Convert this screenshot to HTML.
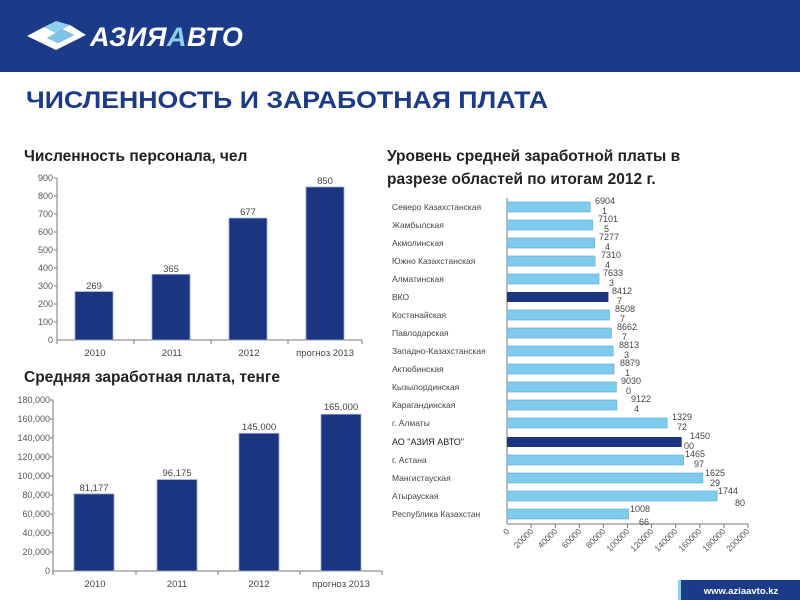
<!DOCTYPE html>
<html><head><meta charset="utf-8"><style>
html,body{margin:0;padding:0;background:#fff;}
svg{display:block;font-family:"Liberation Sans",sans-serif;}
</style></head><body>
<svg width="800" height="600" viewBox="0 0 800 600" xmlns="http://www.w3.org/2000/svg">
<rect x="0" y="0" width="800" height="72" fill="#1b3a87"/>
<!-- logo -->
<polygon points="27,36 44,27 56,33 47,38 58,43 74,35 62,29 70,25 86,35 56,50" fill="#fff"/>
<polygon points="44,27 56,21 70,25 62,29 56,33" fill="#8fd0ef"/>
<polygon points="62,29 74,35 58,43 47,38 56,33" fill="#7cc4e8"/>
<text x="90" y="46" font-size="27" font-weight="bold" font-style="italic" fill="#fff" letter-spacing="0.5">АЗИЯ<tspan fill="#8fd0ef">А</tspan>ВТО</text>
<text x="26" y="108" font-size="24.5" font-weight="bold" fill="#1b3a87" textLength="522" lengthAdjust="spacingAndGlyphs">ЧИСЛЕННОСТЬ И ЗАРАБОТНАЯ ПЛАТА</text>
<text x="24" y="161" font-size="15.5" font-weight="bold" fill="#222">Численность персонала, чел</text>
<text x="387" y="161" font-size="15.5" font-weight="bold" fill="#222">Уровень средней заработной платы в</text>
<text x="387" y="184" font-size="15.5" font-weight="bold" fill="#222">разрезе областей по итогам 2012 г.</text>
<text x="24" y="382" font-size="15.5" font-weight="bold" fill="#222">Средняя заработная плата, тенге</text>

<!-- chart 1 -->
<g font-size="9" fill="#555" text-anchor="end">
<text x="53" y="181">900</text><text x="53" y="199">800</text><text x="53" y="217">700</text><text x="53" y="235">600</text><text x="53" y="253">500</text><text x="53" y="271">400</text><text x="53" y="289">300</text><text x="53" y="307">200</text><text x="53" y="325">100</text><text x="53" y="343">0</text>
</g>
<g stroke="#777" stroke-width="1">
<line x1="57" y1="178" x2="57" y2="340"/>
<line x1="57" y1="340" x2="362" y2="340"/>
<line x1="54" y1="178" x2="57" y2="178"/><line x1="54" y1="196" x2="57" y2="196"/><line x1="54" y1="214" x2="57" y2="214"/><line x1="54" y1="232" x2="57" y2="232"/><line x1="54" y1="250" x2="57" y2="250"/><line x1="54" y1="268" x2="57" y2="268"/><line x1="54" y1="286" x2="57" y2="286"/><line x1="54" y1="304" x2="57" y2="304"/><line x1="54" y1="322" x2="57" y2="322"/>
<line x1="57" y1="340" x2="57" y2="344"/><line x1="134" y1="340" x2="134" y2="344"/><line x1="211" y1="340" x2="211" y2="344"/><line x1="288" y1="340" x2="288" y2="344"/><line x1="362" y1="340" x2="362" y2="344"/>
</g>
<g fill="#1b3580" stroke="#9aa8cc" stroke-width="0.8">
<rect x="75" y="291.6" width="38" height="48.4"/>
<rect x="152" y="274.3" width="38" height="65.7"/>
<rect x="229" y="218.1" width="38" height="121.9"/>
<rect x="306" y="187" width="38" height="153"/>
</g>
<g font-size="9.5" fill="#444" text-anchor="middle">
<text x="94" y="289">269</text><text x="171" y="272">365</text><text x="248" y="215">677</text><text x="325" y="184">850</text>
<text x="95" y="356">2010</text><text x="172" y="356">2011</text><text x="249" y="356">2012</text><text x="325" y="356">прогноз 2013</text>
</g>

<!-- chart 2 -->
<g font-size="9" fill="#555" text-anchor="end">
<text x="50" y="403">180,000</text><text x="50" y="422">160,000</text><text x="50" y="441">140,000</text><text x="50" y="460">120,000</text><text x="50" y="479">100,000</text><text x="50" y="498">80,000</text><text x="50" y="517">60,000</text><text x="50" y="536">40,000</text><text x="50" y="555">20,000</text><text x="50" y="574">0</text>
</g>
<g stroke="#777" stroke-width="1">
<line x1="53" y1="400" x2="53" y2="571"/>
<line x1="53" y1="571" x2="382" y2="571"/>
<line x1="50" y1="400" x2="53" y2="400"/><line x1="50" y1="419" x2="53" y2="419"/><line x1="50" y1="438" x2="53" y2="438"/><line x1="50" y1="457" x2="53" y2="457"/><line x1="50" y1="476" x2="53" y2="476"/><line x1="50" y1="495" x2="53" y2="495"/><line x1="50" y1="514" x2="53" y2="514"/><line x1="50" y1="533" x2="53" y2="533"/><line x1="50" y1="552" x2="53" y2="552"/>
<line x1="53" y1="571" x2="53" y2="575"/><line x1="136" y1="571" x2="136" y2="575"/><line x1="218" y1="571" x2="218" y2="575"/><line x1="300" y1="571" x2="300" y2="575"/><line x1="382" y1="571" x2="382" y2="575"/>
</g>
<g fill="#1b3580" stroke="#9aa8cc" stroke-width="0.8">
<rect x="74" y="493.9" width="40" height="77.1"/>
<rect x="157" y="479.6" width="40" height="91.4"/>
<rect x="239" y="433.3" width="40" height="137.7"/>
<rect x="321" y="414.3" width="40" height="156.7"/>
</g>
<g font-size="9.5" fill="#444" text-anchor="middle">
<text x="94" y="491">81,177</text><text x="177" y="476">96,175</text><text x="259" y="430">145,000</text><text x="341" y="410">165,000</text>
<text x="95" y="587">2010</text><text x="177" y="587">2011</text><text x="259" y="587">2012</text><text x="341" y="587">прогноз 2013</text>
</g>

<!-- chart 3 -->
<g font-size="8.5" fill="#444">
<text x="392" y="210">Северо Казахстанская</text>
<text x="392" y="228">Жамбылская</text>
<text x="392" y="246">Акмолинская</text>
<text x="392" y="264">Южно Казахстанская</text>
<text x="392" y="282">Алматинская</text>
<text x="392" y="300">ВКО</text>
<text x="392" y="318">Костанайская</text>
<text x="392" y="336">Павлодарская</text>
<text x="392" y="354">Западно-Казахстанская</text>
<text x="392" y="372">Актюбинская</text>
<text x="392" y="390">Кызылординская</text>
<text x="392" y="408">Карагандинская</text>
<text x="392" y="426">г. Алматы</text>
<text x="392" y="445" fill="#222" font-size="9">АО "АЗИЯ АВТО"</text>
<text x="392" y="463">г. Астана</text>
<text x="392" y="481">Мангистауская</text>
<text x="392" y="499">Атырауская</text>
<text x="392" y="517">Республика Казахстан</text>
</g>
<g stroke="#777" stroke-width="1">
<line x1="507" y1="198" x2="507" y2="524"/>
<line x1="507" y1="524" x2="748" y2="524"/>
<line x1="531.1" y1="524" x2="531.1" y2="528"/><line x1="555.2" y1="524" x2="555.2" y2="528"/><line x1="579.3" y1="524" x2="579.3" y2="528"/><line x1="603.4" y1="524" x2="603.4" y2="528"/><line x1="627.5" y1="524" x2="627.5" y2="528"/><line x1="651.6" y1="524" x2="651.6" y2="528"/><line x1="675.7" y1="524" x2="675.7" y2="528"/><line x1="699.8" y1="524" x2="699.8" y2="528"/><line x1="723.9" y1="524" x2="723.9" y2="528"/><line x1="748" y1="524" x2="748" y2="528"/>
</g>
<g fill="#7ecbed" stroke="#5aa9cf" stroke-width="0.6">
<rect x="507" y="202" width="83.2" height="10"/>
<rect x="507" y="220" width="85.6" height="10"/>
<rect x="507" y="238" width="87.7" height="10"/>
<rect x="507" y="256" width="88.1" height="10"/>
<rect x="507" y="274" width="92" height="10"/>
<rect x="507" y="310" width="102.5" height="10"/>
<rect x="507" y="328" width="104.4" height="10"/>
<rect x="507" y="346" width="106.2" height="10"/>
<rect x="507" y="364" width="107" height="10"/>
<rect x="507" y="382" width="109.4" height="10"/>
<rect x="507" y="400" width="109.9" height="10"/>
<rect x="507" y="418" width="160.2" height="10"/>
<rect x="507" y="455" width="176.6" height="10"/>
<rect x="507" y="473" width="195.8" height="10"/>
<rect x="507" y="491" width="210.2" height="10"/>
<rect x="507" y="509" width="121.5" height="10"/>
</g>
<g fill="#1b3580">
<rect x="507" y="292" width="101.4" height="10"/>
<rect x="507" y="437" width="174.7" height="10"/>
</g>
<g font-size="9" fill="#444">
<text x="595" y="204">6904</text><text x="602" y="214">1</text>
<text x="598" y="222">7101</text><text x="604" y="232">5</text>
<text x="599" y="240">7277</text><text x="605" y="250">4</text>
<text x="601" y="258">7310</text><text x="605" y="268">4</text>
<text x="603" y="276">7633</text><text x="609" y="286">3</text>
<text x="612" y="294">8412</text><text x="617" y="304">7</text>
<text x="615" y="312">8508</text><text x="620" y="322">7</text>
<text x="617" y="330">8662</text><text x="622" y="340">7</text>
<text x="619" y="348">8813</text><text x="624" y="358">3</text>
<text x="620" y="366">8879</text><text x="625" y="376">1</text>
<text x="621" y="384">9030</text><text x="626" y="394">0</text>
<text x="631" y="402">9122</text><text x="634" y="412">4</text>
<text x="672" y="420">1329</text><text x="677" y="430">72</text>
<text x="690" y="439">1450</text><text x="684" y="449">00</text>
<text x="685" y="457">1465</text><text x="694" y="467">97</text>
<text x="705" y="476">1625</text><text x="710" y="486">29</text>
<text x="718" y="494">1744</text><text x="735" y="506">80</text>
<text x="630" y="512">1008</text><text x="639" y="525">66</text>
</g>
<g font-size="8.5" fill="#555" text-anchor="end">
<text transform="translate(510,532) rotate(-45)">0</text>
<text transform="translate(534,532) rotate(-45)">20000</text>
<text transform="translate(558,532) rotate(-45)">40000</text>
<text transform="translate(582,532) rotate(-45)">60000</text>
<text transform="translate(606,532) rotate(-45)">80000</text>
<text transform="translate(630,532) rotate(-45)">100000</text>
<text transform="translate(654,532) rotate(-45)">120000</text>
<text transform="translate(678,532) rotate(-45)">140000</text>
<text transform="translate(702,532) rotate(-45)">160000</text>
<text transform="translate(726,532) rotate(-45)">180000</text>
<text transform="translate(750,532) rotate(-45)">200000</text>
</g>

<!-- footer -->
<rect x="678" y="580" width="122" height="20" fill="#1b3a87"/>
<rect x="678" y="580" width="3" height="20" fill="#8fd0ef"/>
<text x="741" y="594" font-size="9.5" font-weight="bold" fill="#fff" text-anchor="middle">www.aziaavto.kz</text>
</svg>
</body></html>
